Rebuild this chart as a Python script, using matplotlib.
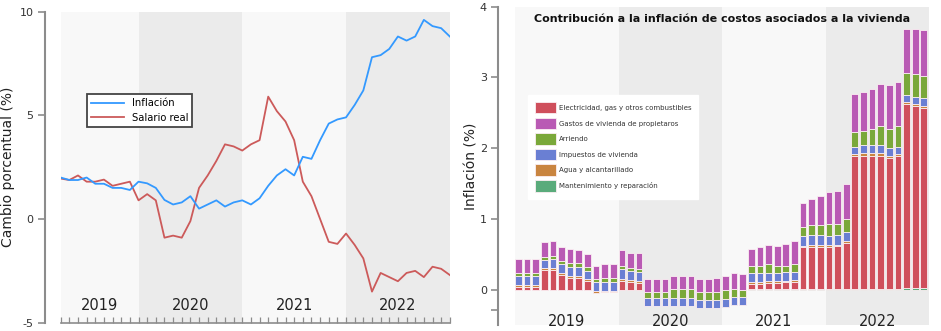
import numpy as np
import matplotlib
matplotlib.use("Agg")
import matplotlib.pyplot as plt

# --- left panel: yearly change, Mar 2019 .. Dec 2022 (monthly)
inflacion = [2.0, 1.88, 1.88, 2.0, 1.7, 1.7, 1.5, 1.5, 1.4, 1.8, 1.72, 1.5,
             0.92, 0.7, 0.8, 1.1, 0.5, 0.7, 0.9, 0.6, 0.8, 0.9, 0.7, 1.0,
             1.6, 2.1, 2.4, 2.1, 3.0, 2.9, 3.8, 4.6, 4.8, 4.9, 5.5, 6.2,
             7.8, 7.9, 8.2, 8.8, 8.6, 8.8, 9.6, 9.3, 9.2, 8.8]
salario_real = [1.95, 1.88, 2.1, 1.8, 1.8, 1.9, 1.6, 1.7, 1.8, 0.9, 1.2, 0.9,
                -0.9, -0.8, -0.9, -0.1, 1.5, 2.1, 2.8, 3.6, 3.5, 3.3, 3.6, 3.8,
                5.9, 5.2, 4.7, 3.8, 1.8, 1.1, 0.0, -1.1, -1.2, -0.7, -1.25, -1.9,
                -3.5, -2.6, -2.8, -3.0, -2.6, -2.5, -2.8, -2.3, -2.4, -2.7]
years = ["2019", "2020", "2021", "2022"]
left_ticks = [-5, 0, 5, 10]
left_ticklabels = ["-5", "0", "5", "10"]

# --- right panel: contributions, Jan 2019 .. Dec 2022 (monthly)
electricidad = [0.045, 0.045, 0.045, 0.28, 0.28, 0.21, 0.17, 0.17, 0.13, -0.045, -0.03, -0.03,
                0.125, 0.105, 0.09, -0.225, -0.225, -0.225, -0.22, -0.22, -0.22, -0.26, -0.26, -0.25,
                -0.245, -0.21, -0.215, 0.08, 0.08, 0.09, 0.09, 0.1, 0.1, 0.59, 0.6, 0.6,
                0.6, 0.607, 0.65, 1.87, 1.87, 1.87, 1.87, 1.85, 1.88, 2.59, 2.565, 2.54]
gastos = [0.19, 0.19, 0.19, 0.21, 0.21, 0.195, 0.195, 0.19, 0.175, 0.185, 0.195, 0.195,
          0.23, 0.2, 0.22, 0.19, 0.195, 0.195, 0.18, 0.18, 0.19, 0.185, 0.185, 0.2,
          0.19, 0.235, 0.225, 0.235, 0.26, 0.265, 0.275, 0.305, 0.315, 0.345, 0.38, 0.41,
          0.447, 0.466, 0.495, 0.53, 0.54, 0.56, 0.6, 0.61, 0.62, 0.62, 0.64, 0.655]
arriendo = [0.05, 0.05, 0.05, 0.05, 0.05, 0.055, 0.055, 0.05, 0.06, 0.04, 0.055, 0.055,
            0.05, 0.045, 0.045, 0.085, 0.085, 0.085, 0.12, 0.12, 0.12, 0.115, 0.115, 0.11,
            0.13, 0.11, 0.11, 0.105, 0.105, 0.125, 0.1, 0.09, 0.11, 0.125, 0.14, 0.14,
            0.166, 0.164, 0.18, 0.21, 0.21, 0.23, 0.27, 0.28, 0.3, 0.31, 0.315, 0.31]
impuestos = [0.125, 0.125, 0.125, 0.11, 0.12, 0.12, 0.13, 0.13, 0.115, 0.125, 0.12, 0.12,
             0.13, 0.13, 0.125, 0.105, 0.105, 0.105, 0.11, 0.11, 0.11, 0.115, 0.115, 0.115,
             0.115, 0.11, 0.11, 0.12, 0.12, 0.12, 0.12, 0.125, 0.12, 0.135, 0.13, 0.14,
             0.132, 0.133, 0.135, 0.1, 0.11, 0.11, 0.11, 0.11, 0.1, 0.1, 0.105, 0.105]
agua = [0.02, 0.02, 0.02, 0.03, 0.03, 0.03, 0.03, 0.03, 0.025, 0.03, 0.02, 0.02,
        0.03, 0.03, 0.035, 0, 0, 0, 0, 0, 0, 0, 0, 0,
        0, 0, 0, 0.025, 0.025, 0.025, 0.025, 0.02, 0.03, 0.025, 0.03, 0.02,
        0.02, 0.02, 0.025, 0.04, 0.045, 0.045, 0.045, 0.024, 0.02, 0.03, 0.03, 0.03]
mantenimiento = [0] * 12 + [0.005] * 3 + [0] * 9 + [0] * 3 + [0.01] * 9 + \
    [0.013, 0.013, 0.015, 0.015, 0.015, 0.015, 0.015, 0.015, 0.016, 0.03, 0.03, 0.03]

fig = plt.figure(figsize=(9.41, 3.31), dpi=100)
band_cols = ["#f8f8f8", "#ebebeb", "#f8f8f8", "#ebebeb"]
spine_col = "#8c8c8c"
txt_col = "#333333"

# ---------------- left
ax1 = fig.add_axes([0.0645, 0.025, 0.4135, 0.94])
x = np.arange(len(inflacion))
edges = [0, 9, 21, 33, 45]
for i, yr in enumerate(years):
    ax1.axvspan(edges[i], edges[i + 1], color=band_cols[i], lw=0, zorder=0)
    ax1.text((edges[i] + edges[i + 1]) / 2, -4.15, yr, ha="center", va="center",
             fontsize=10.5, color="#222222")
ax1.plot(x, salario_real, color="#cc5a5a", lw=1.3, label="Salario real", zorder=2)
ax1.plot(x, inflacion, color="#3399ff", lw=1.3, label="Inflación", zorder=3)
ax1.set_xlim(0, 45)
ax1.set_ylim(-5, 10)
ax1.set_yticks(left_ticks)
ax1.set_yticklabels(left_ticklabels)
ax1.set_xticks(x)
ax1.set_xticklabels([])
for s in ["top", "right"]:
    ax1.spines[s].set_visible(False)
ax1.spines["left"].set_position(("outward", 11.5))
ax1.spines["left"].set_color(spine_col)
ax1.spines["left"].set_linewidth(1.5)
ax1.spines["bottom"].set_color(spine_col)
ax1.spines["bottom"].set_linewidth(1.2)
ax1.tick_params(axis="y", length=5, width=1.2, color=spine_col, labelsize=8,
                labelcolor=txt_col, pad=3)
ax1.tick_params(axis="x", direction="in", length=4, width=0.9, color=spine_col)
ax1.set_ylabel("Cambio porcentual (%)", fontsize=10, color="#222222", labelpad=3)
h, l = ax1.get_legend_handles_labels()
leg1 = ax1.legend(h[::-1], l[::-1], loc="upper left", bbox_to_anchor=(0.067, 0.735),
                  borderaxespad=0, fancybox=False, fontsize=7.2, handlelength=3.3,
                  framealpha=1, labelspacing=0.45)
leg1.get_frame().set_edgecolor("#444444")
leg1.get_frame().set_linewidth(1.3)

# ---------------- right
ax2 = fig.add_axes([0.5473, 0.017, 0.44, 0.963])
xb = np.arange(len(electricidad))
series = [
    (mantenimiento, "#5aab7b", "Mantenimiento y reparación"),
    (electricidad, "#cf4f5c", "Electricidad, gas y otros combustibles"),
    (agua, "#c98540", "Agua y alcantarillado"),
    (impuestos, "#6a7fd3", "Impuestos de vivienda"),
    (arriendo, "#7aa83a", "Arriendo"),
    (gastos, "#b95ab4", "Gastos de vivienda de propietaros"),
]
for i, yr in enumerate(years):
    ax2.axvspan(12 * i, 12 * (i + 1), color=band_cols[i], lw=0, zorder=0)
    ax2.text(12 * i + 6, -0.44, yr, ha="center", va="center", fontsize=10.5, color="#222222")
bottom = np.zeros(len(xb))
bars = {}
for vals, col, lab in series:
    vals = np.array(vals, dtype=float)
    bars[lab] = ax2.bar(xb, vals, bottom=bottom, width=0.78, align="edge", color=col,
                        edgecolor="#fbeef2", linewidth=0.6, label=lab, zorder=2)
    bottom = bottom + vals
ax2.set_xlim(0, 48)
ax2.set_ylim(-0.5, 4)
ax2.set_yticks([-0.28, 0, 1, 2, 3, 4])
ax2.set_yticklabels(["", "0", "1", "2", "3", "4"])
ax2.set_xticks([])
for s in ["top", "right", "bottom"]:
    ax2.spines[s].set_visible(False)
ax2.spines["left"].set_position(("outward", 12.2))
ax2.spines["left"].set_color(spine_col)
ax2.spines["left"].set_linewidth(1.5)
ax2.tick_params(axis="y", length=5, width=1.2, color=spine_col, labelsize=8,
                labelcolor=txt_col, pad=3)
ax2.set_ylabel("Inflación (%)", fontsize=10, color="#222222", labelpad=1)
ax2.text(0.5, 0.961, "Contribución a la inflación de costos asociados a la vivienda",
         transform=ax2.transAxes, ha="center", va="center", fontsize=8,
         fontweight="bold", color="#111111")
order = ["Electricidad, gas y otros combustibles", "Gastos de vivienda de propietaros",
         "Arriendo", "Impuestos de vivienda", "Agua y alcantarillado",
         "Mantenimiento y reparación"]
leg2 = ax2.legend([bars[k] for k in order], order, loc="upper left",
                  bbox_to_anchor=(0.031, 0.723), borderaxespad=0, fancybox=False,
                  fontsize=5, handlelength=3.0, handleheight=2.2, labelspacing=0.58,
                  handletextpad=0.45, framealpha=1, edgecolor="white", borderpad=1.0)
for t in leg2.get_texts():
    t.set_color("#333333")

fig.savefig("out.png", dpi=100)
